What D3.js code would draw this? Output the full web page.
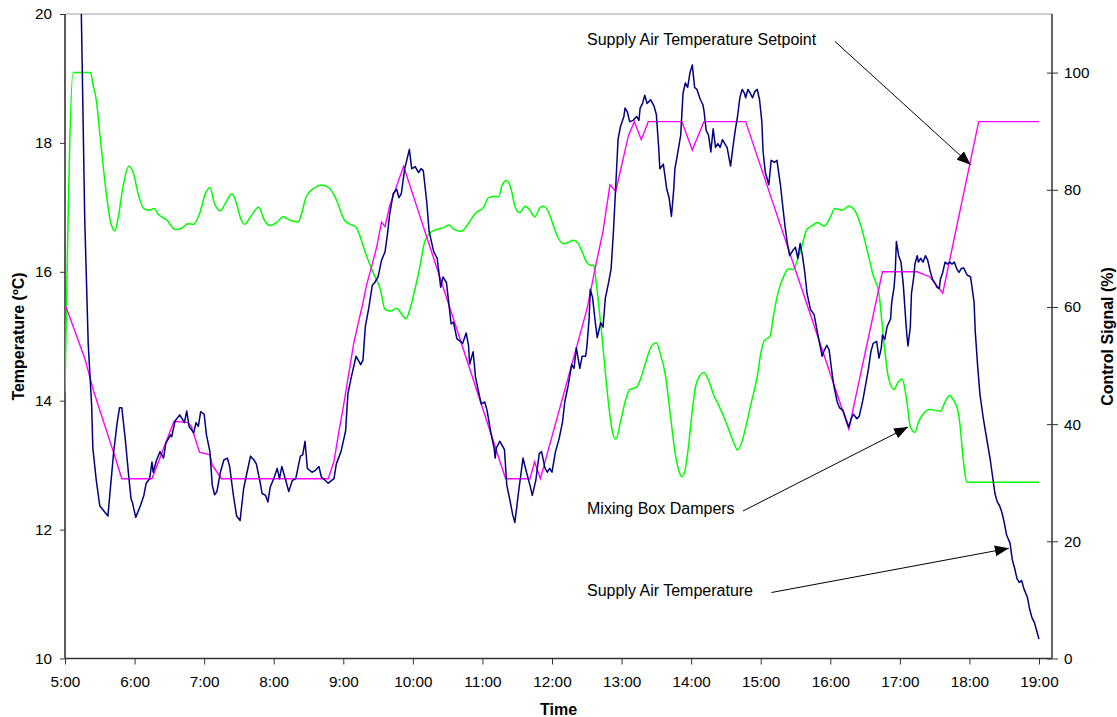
<!DOCTYPE html>
<html>
<head>
<meta charset="utf-8">
<script src="https://cdn.jsdelivr.net/npm/d3@7/dist/d3.min.js"></script>
<style>
body { margin: 0; background: #fff; }
svg { display: block; font-family: "Liberation Sans", Arial, sans-serif; }
.axis text { font-size: 15.3px; fill: #000; }
.axis line { stroke: #333; }
.title { font-size: 16px; font-weight: bold; }
.note { font-size: 16px; fill: #000; }
.line { fill: none; }
</style>
</head>
<body>
<svg width="1117" height="717"></svg>
<script>
// values: [clock time, value]
var supplyAir = [
  ["5:13",21.2],["5:14",20.1],["5:17",16.83],["5:20",14.89],["5:23",13.92],["5:24",13.27],["5:27",12.76],["5:30",12.37],
  ["5:33",12.30],["5:37",12.21],["5:42",13.21],["5:45",13.66],["5:47",13.89],["5:49",13.89],["5:52",13.40],["5:55",12.82],
  ["5:57",12.47],["5:58",12.43],["6:01",12.19],["6:05",12.37],["6:08",12.53],["6:10",12.72],["6:13",12.79],["6:15",13.05],
  ["6:16",12.89],["6:19",13.08],["6:22",13.21],["6:25",13.11],["6:27",13.34],["6:31",13.47],["6:32",13.44],["6:35",13.69],
  ["6:39",13.78],["6:43",13.66],["6:45",13.84],["6:47",13.60],["6:51",13.50],["6:53",13.66],["6:55",13.60],["6:57",13.83],
  ["7:00",13.79],["7:02",13.47],["7:05",13.21],["7:07",12.69],["7:09",12.54],["7:11",12.59],["7:14",12.89],["7:17",13.08],
  ["7:20",13.11],["7:22",12.98],["7:25",12.56],["7:28",12.21],["7:31",12.14],["7:34",12.63],["7:37",12.89],["7:40",13.14],
  ["7:43",13.08],["7:45",13.02],["7:48",12.76],["7:50",12.56],["7:53",12.53],["7:55",12.43],["7:57",12.66],["8:00",12.79],
  ["8:03",12.95],["8:05",12.79],["8:07",12.98],["8:10",12.79],["8:13",12.59],["8:16",12.76],["8:19",12.79],["8:23",13.14],
  ["8:25",13.16],["8:27",13.37],["8:29",12.95],["8:33",12.89],["8:36",12.92],["8:39",12.98],["8:41",12.82],["8:44",12.77],
  ["8:47",12.72],["8:52",12.79],["8:54",13.02],["8:58",13.21],["9:02",13.53],["9:04",14.11],["9:07",14.37],["9:11",14.69],
  ["9:15",14.56],["9:17",14.63],["9:19",15.15],["9:22",15.44],["9:25",15.79],["9:27",15.83],["9:30",15.92],["9:33",16.18],
  ["9:36",16.31],["9:38",16.57],["9:40",16.89],["9:43",17.21],["9:46",17.28],["9:48",17.15],["9:50",17.21],["9:53",17.60],
  ["9:57",17.90],["9:59",17.60],["10:02",17.63],["10:05",17.54],["10:07",17.60],["10:09",17.57],["10:12",17.08],["10:14",16.63],
  ["10:18",16.31],["10:21",16.21],["10:24",15.76],["10:26",15.92],["10:29",15.83],["10:33",15.19],["10:35",15.22],["10:38",14.96],
  ["10:41",14.92],["10:43",14.89],["10:46",15.05],["10:48",14.86],["10:49",14.57],["10:52",14.76],["10:54",14.37],["10:57",14.11],
  ["10:59",13.95],["11:02",13.98],["11:04",13.85],["11:07",13.53],["11:10",13.27],["11:11",13.11],["11:12",13.27],["11:15",13.37],
  ["11:19",13.24],["11:21",12.69],["11:24",12.43],["11:26",12.24],["11:28",12.11],["11:31",12.56],["11:35",13.11],["11:38",12.89],
  ["11:41",12.69],["11:43",12.53],["11:46",12.76],["11:49",13.18],["11:51",13.21],["11:54",12.95],["11:56",12.89],["11:58",12.95],
  ["12:00",12.89],["12:03",13.21],["12:06",13.40],["12:09",13.66],["12:11",13.98],["12:14",14.24],["12:17",14.56],["12:19",14.50],
  ["12:21",14.82],["12:24",14.50],["12:26",14.69],["12:29",14.69],["12:30",14.82],["12:32",15.27],["12:33",15.73],["12:35",15.60],
  ["12:37",15.27],["12:39",14.98],["12:42",15.21],["12:44",15.14],["12:46",15.59],["12:49",15.85],["12:51",16.05],["12:53",16.63],
  ["12:55",17.34],["12:57",18.06],["12:59",18.25],["13:02",18.41],["13:03",18.54],["13:05",18.48],["13:07",18.33],["13:10",18.35],
  ["13:13",18.41],["13:15",18.35],["13:16",18.54],["13:18",18.61],["13:20",18.74],["13:22",18.61],["13:25",18.67],["13:28",18.57],
  ["13:30",18.44],["13:32",17.93],["13:33",17.60],["13:36",17.67],["13:38",17.41],["13:39",17.28],["13:41",17.15],["13:43",16.86],
  ["13:45",17.28],["13:46",17.60],["13:48",17.80],["13:51",18.12],["13:53",18.77],["13:55",18.93],["13:57",18.86],["13:59",19.09],
  ["14:01",19.21],["14:03",18.86],["14:05",18.83],["14:08",18.67],["14:10",18.60],["14:11",18.51],["14:13",18.19],["14:15",18.12],
  ["14:17",17.86],["14:19",18.22],["14:21",17.93],["14:23",17.99],["14:25",17.93],["14:27",18.05],["14:29",17.99],["14:31",17.93],
  ["14:34",17.64],["14:36",17.93],["14:38",18.19],["14:40",18.41],["14:42",18.70],["14:44",18.83],["14:46",18.77],["14:47",18.70],
  ["14:49",18.83],["14:51",18.77],["14:53",18.70],["14:55",18.80],["14:57",18.83],["14:59",18.67],["15:01",18.32],["15:02",17.87],
  ["15:04",17.54],["15:07",17.35],["15:09",17.73],["15:12",17.70],["15:14",17.73],["15:17",17.35],["15:19",17.02],["15:21",16.70],
  ["15:23",16.44],["15:25",16.25],["15:28",16.34],["15:30",16.38],["15:32",16.21],["15:34",16.44],["15:36",16.25],["15:38",15.99],
  ["15:40",15.66],["15:43",15.41],["15:46",15.34],["15:48",15.15],["15:50",14.96],["15:53",14.69],["15:55",14.79],["15:57",14.86],
  ["15:59",14.79],["16:01",14.50],["16:03",14.24],["16:06",13.98],["16:08",13.89],["16:11",13.85],["16:14",13.69],["16:16",13.59],
  ["16:18",13.72],["16:20",13.79],["16:23",13.72],["16:25",13.76],["16:28",14.00],["16:30",14.20],["16:33",14.50],["16:35",14.76],
  ["16:37",14.89],["16:40",14.92],["16:42",14.66],["16:44",14.82],["16:45",15.02],["16:47",14.95],["16:49",15.15],["16:52",15.27],
  ["16:53",15.53],["16:55",15.76],["16:56",15.99],["16:57",16.47],["16:59",16.25],["17:01",16.15],["17:03",15.79],["17:05",15.27],
  ["17:06",15.02],["17:07",14.85],["17:09",15.14],["17:10",15.66],["17:12",15.92],["17:13",16.12],["17:15",16.25],["17:16",16.15],
  ["17:18",16.21],["17:20",16.15],["17:22",16.25],["17:24",16.18],["17:26",16.02],["17:28",15.89],["17:30",15.83],["17:32",15.76],
  ["17:34",15.74],["17:35",15.89],["17:37",15.99],["17:39",16.15],["17:41",16.12],["17:43",16.15],["17:45",16.12],["17:47",16.15],
  ["17:49",16.05],["17:51",15.99],["17:53",16.05],["17:55",16.06],["17:58",15.95],["18:01",15.92],["18:02",15.79],["18:04",15.53],
  ["18:05",15.08],["18:07",14.56],["18:09",14.11],["18:12",13.72],["18:15",13.40],["18:18",13.08],["18:20",12.82],["18:22",12.56],
  ["18:24",12.43],["18:26",12.37],["18:28",12.27],["18:30",12.11],["18:32",11.92],["18:35",11.79],["18:37",11.53],["18:39",11.40],
  ["18:41",11.24],["18:43",11.18],["18:45",11.21],["18:47",11.08],["18:50",10.95],["18:52",10.76],["18:54",10.63],["18:56",10.56],
  ["18:58",10.43],["19:00",10.30]
];

var setpoint = [
  ["5:00",15.48],["5:02",15.40],["5:17",14.66],["5:25",14.13],["5:42",13.19],["5:44",13.08],["5:49",12.79],["6:15",12.79],
  ["6:34",13.68],["6:46",13.66],["6:49",13.60],["6:56",13.20],["7:05",13.16],["7:07",13.00],["7:15",12.79],["8:47",12.79],
  ["8:52",13.06],["8:56",13.50],["9:00",13.90],["9:05",14.45],["9:09",14.89],["9:13",15.21],["9:17",15.52],["9:20",15.79],
  ["9:25",16.12],["9:29",16.40],["9:33",16.77],["9:36",16.70],["9:40",17.02],["9:52",17.64],["11:20",12.79],["11:41",12.79],
  ["11:45",13.05],["11:50",12.79],["12:30",15.41],["12:38",16.12],["12:44",16.63],["12:50",17.35],["12:55",17.25],["13:06",18.12],
  ["13:11",18.33],["13:17",18.05],["13:23",18.33],["13:52",18.33],["14:01",17.89],["14:11",18.33],["14:47",18.33],["16:16",13.56],
  ["16:45",16.00],["17:15",16.00],["17:26",15.92],["17:33",15.76],["17:37",15.67],["18:08",18.33],["19:00",18.33]
];

var dampers = [
  ["5:00",45.5],["5:07",100],["5:22",100],["5:24",98.1],["5:27",95.3],["5:30",89.6],["5:33",83.9],["5:36",78.8],
  ["5:39",74.8],["5:43",73.0],["5:46",75.4],["5:50",80.5],["5:55",84.0],["5:59",82.8],["6:03",79.4],["6:08",76.8],
  ["6:13",76.5],["6:17",76.8],["6:20",75.9],["6:28",74.8],["6:35",73.2],["6:41",73.5],["6:46",74.2],["6:51",74.1],
  ["6:56",75.9],["7:01",79.3],["7:05",80.4],["7:09",77.6],["7:14",76.4],["7:18",77.6],["7:24",79.3],["7:28",77.6],
  ["7:31",75.4],["7:35",74.1],["7:40",75.4],["7:47",77.0],["7:52",74.8],["7:57",73.9],["8:03",74.5],["8:08",75.4],
  ["8:14",74.8],["8:21",74.5],["8:24",75.9],["8:28",78.8],["8:35",80.3],["8:41",80.8],["8:48",80.3],["8:54",78.3],
  ["9:01",74.8],["9:06",74.1],["9:11",73.6],["9:14",72.3],["9:19",69.3],["9:23",67.2],["9:27",65.3],["9:32",63.0],
  ["9:36",59.6],["9:41",59.3],["9:46",59.8],["9:50",58.9],["9:54",58.0],["9:58",60.0],["10:02",63.2],["10:06",66.8],
  ["10:10",71.0],["10:15",72.7],["10:22",73.3],["10:26",73.5],["10:31",74.0],["10:36",73.2],["10:42",72.9],["10:48",74.3],
  ["10:54",76.0],["11:01",77.0],["11:05",78.6],["11:10",78.9],["11:14",78.8],["11:17",80.8],["11:21",81.6],["11:25",79.9],
  ["11:28",77.2],["11:32",76.1],["11:37",77.2],["11:41",76.5],["11:45",75.4],["11:50",77.0],["11:53",77.2],["11:57",76.2],
  ["12:01",74.0],["12:05",71.9],["12:10",70.8],["12:14",71.0],["12:18",71.4],["12:22",71.0],["12:26",69.4],["12:30",67.6],
  ["12:33",67.1],["12:36",67.1],["12:38",64.4],["12:40",60.9],["12:43",55.2],["12:46",48.8],["12:49",43.1],["12:52",38.8],
  ["12:55",37.4],["12:59",40.3],["13:03",43.8],["13:07",45.9],["13:13",46.3],["13:17",48.1],["13:22",51.3],["13:26",53.4],
  ["13:30",53.9],["13:33",52.3],["13:38",48.1],["13:42",41.7],["13:46",35.3],["13:50",31.7],["13:52",31.0],["13:55",32.4],
  ["13:58",36.7],["14:01",42.4],["14:04",46.6],["14:08",48.4],["14:11",48.8],["14:15",47.5],["14:19",45.2],["14:24",43.1],
  ["14:28",41.3],["14:32",39.3],["14:37",36.7],["14:40",35.6],["14:44",37.1],["14:48",40.3],["14:52",43.8],["14:57",48.1],
  ["15:00",52.0],["15:03",54.2],["15:08",55.0],["15:11",58.5],["15:15",62.5],["15:20",65.3],["15:24",66.5],["15:28",66.4],
  ["15:32",68.2],["15:36",70.8],["15:40",73.3],["15:44",73.8],["15:49",74.4],["15:55",73.8],["16:00",75.3],["16:04",76.8],
  ["16:10",76.5],["16:16",77.2],["16:21",76.5],["16:26",74.1],["16:32",69.5],["16:37",65.4],["16:42",62.3],["16:44",58.5],
  ["16:47",52.5],["16:50",48.1],["16:55",45.9],["16:58",47.0],["17:02",47.7],["17:05",45.2],["17:07",42.4],["17:09",39.6],
  ["17:13",38.6],["17:16",40.3],["17:20",41.7],["17:26",42.5],["17:35",42.2],["17:39",43.8],["17:43",44.9],["17:46",44.2],
  ["17:50",42.4],["17:52",39.6],["17:54",35.3],["17:56",31.7],["17:58",30.1],["19:00",30.1]
];

var timeTicks = ["5:00","6:00","7:00","8:00","9:00","10:00","11:00","12:00","13:00","14:00","15:00","16:00","17:00","18:00","19:00"];
var tempTicks = [10, 12, 14, 16, 18, 20];
var signalTicks = [0, 20, 40, 60, 80, 100];

// annotation text and the data point each arrow lands on
var notes = [
  {label: "Supply Air Temperature Setpoint", time: "18:01", value: 17.66, axis: "temp"},
  {label: "Mixing Box Dampers", time: "17:07", value: 39.5, axis: "signal"},
  {label: "Supply Air Temperature", time: "18:34", value: 11.71, axis: "temp"}
];

var svg = d3.select("svg"),
    margin = {top: 14, left: 65},
    width = 987,
    height = 644.5,
    g = svg.append("g").attr("transform", "translate(" + margin.left + "," + margin.top + ")");

var parseTime = d3.timeParse("%H:%M");

var x = d3.scaleTime().domain([parseTime("5:00"), parseTime("19:00")]).range([0, 974]),
    yTemp = d3.scaleLinear().domain([10, 20]).range([height, 0]),
    ySignal = d3.scaleLinear().domain([0, 110]).range([height, 0]);

svg.append("defs").append("clipPath")
    .attr("id", "plot-clip")
  .append("rect")
    .attr("width", width)
    .attr("height", height);

// frame
g.append("line").attr("x1", 0).attr("x2", width).attr("y1", 0).attr("y2", 0)
    .attr("stroke", "#a0a0a0").attr("stroke-width", 1);
g.append("line").attr("x1", width).attr("x2", width).attr("y1", 0).attr("y2", height)
    .attr("stroke", "#000").attr("stroke-width", 1.2);

g.append("g")
    .attr("class", "axis axis--x")
    .attr("transform", "translate(0," + height + ")")
    .call(d3.axisBottom(x)
      .tickValues(timeTicks.map(parseTime))
      .tickFormat(function(d, i) { return timeTicks[i]; })
      .tickSize(6)
      .tickPadding(12))
    .call(function(a) { a.select(".domain").remove(); });

g.append("g")
    .attr("class", "axis axis--y")
    .call(d3.axisLeft(yTemp).tickValues(tempTicks).tickSize(5).tickPadding(8))
    .call(function(a) { a.select(".domain").remove(); });

g.append("g")
    .attr("class", "axis axis--y2")
    .attr("transform", "translate(" + width + ",0)")
    .call(d3.axisRight(ySignal).tickValues(signalTicks).tickSize(6).tickPadding(6))
    .call(function(a) {
      a.select(".domain").remove();
      a.selectAll(".tick line").attr("x1", -5).attr("stroke", "#000");
    });

g.append("line").attr("x1", 0).attr("x2", 0).attr("y1", 0).attr("y2", height)
    .attr("stroke", "#333").attr("stroke-width", 1.6);
g.append("line").attr("x1", 0).attr("x2", width).attr("y1", height).attr("y2", height)
    .attr("stroke", "#333").attr("stroke-width", 1.6);

// series
var tempLine = d3.line()
    .x(function(d) { return x(parseTime(d[0])); })
    .y(function(d) { return yTemp(d[1]); });

var signalLine = d3.line()
    .curve(d3.curveMonotoneX)
    .x(function(d) { return x(parseTime(d[0])); })
    .y(function(d) { return ySignal(d[1]); });

var plot = g.append("g").attr("clip-path", "url(#plot-clip)");

plot.append("path")
    .attr("class", "line")
    .attr("d", signalLine(dampers))
    .attr("stroke", "#00ff00")
    .attr("stroke-width", 1.5);

plot.append("path")
    .attr("class", "line")
    .attr("d", tempLine(setpoint))
    .attr("stroke", "#ff00ff")
    .attr("stroke-width", 1.4);

plot.append("path")
    .attr("class", "line")
    .attr("d", tempLine(supplyAir))
    .attr("stroke", "#000080")
    .attr("stroke-width", 1.5)
    .attr("stroke-linejoin", "round");

// axis titles
svg.append("text")
    .attr("class", "title")
    .attr("transform", "translate(18,336.5) rotate(-90)")
    .attr("text-anchor", "middle")
    .attr("dy", "0.35em")
    .text("Temperature (ºC)");

svg.append("text")
    .attr("class", "title")
    .attr("transform", "translate(1107,336.5) rotate(-90)")
    .attr("text-anchor", "middle")
    .attr("dy", "0.35em")
    .text("Control Signal (%)");

svg.append("text")
    .attr("class", "title")
    .attr("x", 558.5)
    .attr("y", 715)
    .attr("text-anchor", "middle")
    .text("Time");

// annotations
svg.select("defs").append("marker")
    .attr("id", "arrowhead")
    .attr("viewBox", "0 0 14 11")
    .attr("refX", 14)
    .attr("refY", 5.5)
    .attr("markerUnits", "userSpaceOnUse")
    .attr("markerWidth", 14)
    .attr("markerHeight", 11)
    .attr("orient", "auto")
  .append("path")
    .attr("d", "M0,0L14,5.5L0,11Z")
    .attr("fill", "#000");

var noteLayout = [
  {x: 587, y: 45, from: [835, 41.5]},
  {x: 587, y: 514, from: [743, 511]},
  {x: 587, y: 595.5, from: [771.5, 592.5]}
];

notes.forEach(function(n, i) {
  var pos = noteLayout[i],
      tipX = margin.left + x(parseTime(n.time)),
      tipY = margin.top + (n.axis === "temp" ? yTemp(n.value) : ySignal(n.value));

  svg.append("text")
      .attr("class", "note")
      .attr("x", pos.x)
      .attr("y", pos.y)
      .text(n.label);

  svg.append("line")
      .attr("x1", pos.from[0])
      .attr("y1", pos.from[1])
      .attr("x2", tipX)
      .attr("y2", tipY)
      .attr("stroke", "#000")
      .attr("stroke-width", 1)
      .attr("marker-end", "url(#arrowhead)");
});
</script>
</body>
</html>
